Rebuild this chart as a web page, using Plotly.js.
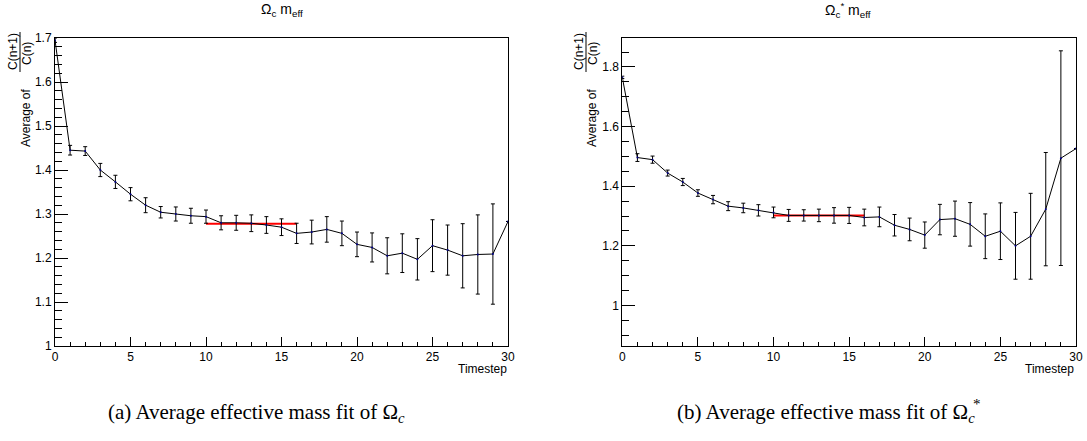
<!DOCTYPE html>
<html>
<head>
<meta charset="utf-8">
<script src="https://cdn.plot.ly/plotly-3.0.1.min.js"></script>
<style>html,body{margin:0;padding:0;background:#fff;}#chart{width:1087px;height:441px;}</style>
</head>
<body>
<div id="chart"></div>
<script>
// ---- data ----
const timesteps = [0,1,2,3,4,5,6,7,8,9,10,11,12,13,14,15,16,17,18,19,20,21,22,23,24,25,26,27,28,29,30];
const omegaC = [1.695,1.445,1.443,1.400,1.373,1.345,1.320,1.304,1.300,1.296,1.294,1.280,1.280,1.279,1.275,1.270,1.256,1.259,1.265,1.256,1.231,1.224,1.205,1.211,1.197,1.228,1.218,1.205,1.208,1.209,1.283];
const omegaCErr = [0.005,0.011,0.010,0.015,0.015,0.015,0.017,0.013,0.016,0.017,0.015,0.016,0.017,0.019,0.019,0.019,0.023,0.027,0.029,0.028,0.028,0.033,0.041,0.044,0.047,0.059,0.057,0.073,0.090,0.114,0];
const omegaCStar = [1.765,1.496,1.489,1.444,1.414,1.377,1.355,1.333,1.327,1.319,1.312,1.302,1.302,1.302,1.302,1.302,1.295,1.297,1.269,1.255,1.236,1.288,1.291,1.272,1.232,1.249,1.200,1.232,1.323,1.494,1.526];
const omegaCStarErr = [0.004,0.013,0.012,0.010,0.012,0.011,0.014,0.015,0.016,0.019,0.018,0.020,0.019,0.021,0.026,0.027,0.028,0.033,0.036,0.038,0.044,0.051,0.059,0.073,0.075,0.095,0.112,0.144,0.190,0.360,0];
const fitRange = [10, 16];
const fitC = 1.278;
const fitCStar = 1.302;

const W = 1087, H = 441;
const px = x => x / W;
const py = y => 1 - y / H;
const FONT = 'Liberation Sans, Arial, Helvetica, sans-serif';
const SERIF = 'Liberation Serif, Times New Roman, serif';

function dataTrace(y, err, xa, ya) {
  return {
    x: timesteps, y: y, xaxis: xa, yaxis: ya, type: 'scatter', mode: 'lines+markers',
    line: {color: '#000', width: 1},
    marker: {color: '#00008b', size: 2},
    error_y: {type: 'data', array: err, visible: true, color: '#000', thickness: 1, width: 2},
    showlegend: false, hoverinfo: 'x+y'
  };
}
function fitTrace(v, xa, ya) {
  return {
    x: fitRange, y: [v, v], xaxis: xa, yaxis: ya, type: 'scatter', mode: 'lines',
    line: {color: '#ff0000', width: 2}, showlegend: false
  };
}

const traces = [
  fitTrace(fitC, 'x', 'y'),
  dataTrace(omegaC, omegaCErr, 'x', 'y'),
  fitTrace(fitCStar, 'x2', 'y2'),
  dataTrace(omegaCStar, omegaCStarErr, 'x2', 'y2')
];

function xAxis(domain, anchor) {
  return {
    domain: domain, anchor: anchor, range: [0, 30], dtick: 5, tick0: 0,
    ticks: 'inside', ticklen: 9, tickwidth: 1, tickcolor: '#000',
    minor: {dtick: 1, ticks: 'inside', ticklen: 4, tickcolor: '#000', tickwidth: 1},
    showline: true, linecolor: '#000', linewidth: 1, mirror: true,
    showgrid: false, zeroline: false,
    tickfont: {family: FONT, size: 12, color: '#000'}
  };
}
function yAxis(domain, anchor, range, dtick, mdtick) {
  return {
    domain: domain, anchor: anchor, range: range, dtick: dtick, tick0: 0,
    ticks: 'inside', ticklen: 13, tickwidth: 1, tickcolor: '#000',
    minor: {dtick: mdtick, ticks: 'inside', ticklen: 7, tickcolor: '#000', tickwidth: 1},
    showline: true, linecolor: '#000', linewidth: 1, mirror: true,
    showgrid: false, zeroline: false,
    tickfont: {family: FONT, size: 12, color: '#000'}
  };
}

const yDom = [py(346), py(38)];
const annFont = {family: FONT, size: 12, color: '#000'};

function yTitle(off) {
  return [
    {text: 'Average of', x: px(26 + off), y: py(118), textangle: -90},
    {text: 'C(n+1)', x: px(13 + off), y: py(52), textangle: -90},
    {text: 'C(n)', x: px(27 + off), y: py(54), textangle: -90}
  ];
}

const annotations = [
  {text: 'Ω<sub>c</sub> m<sub>eff</sub>', x: px(282), y: py(10), font: {family: FONT, size: 14, color: '#000'}},
  {text: 'Ω<sub>c</sub><sup>*</sup> m<sub>eff</sub>', x: px(848), y: py(10), font: {family: FONT, size: 14, color: '#000'}},
  {text: 'Timestep', x: px(509), y: py(369), xanchor: 'right', font: annFont},
  {text: 'Timestep', x: px(1076), y: py(369), xanchor: 'right', font: annFont},
  ...yTitle(0), ...yTitle(566),
  {text: '(a) Average effective mass fit of Ω<sub><i>c</i></sub>', x: px(256), y: py(413), font: {family: SERIF, size: 21, color: '#000'}},
  {text: '(b) Average effective mass fit of Ω<sub><i>c</i></sub>', x: px(826), y: py(413), font: {family: SERIF, size: 21, color: '#000'}},
  {text: '*', x: px(977), y: py(404), font: {family: SERIF, size: 15, color: '#000'}}
].map(a => Object.assign({xref: 'paper', yref: 'paper', showarrow: false, font: annFont, xanchor: 'center', yanchor: 'middle'}, a));

const shapes = [
  {type: 'line', xref: 'paper', yref: 'paper', x0: px(20), x1: px(20), y0: py(32), y1: py(72), line: {color: '#000', width: 1}},
  {type: 'line', xref: 'paper', yref: 'paper', x0: px(586), x1: px(586), y0: py(32), y1: py(72), line: {color: '#000', width: 1}}
];

const layout = {
  width: W, height: H,
  margin: {l: 0, r: 0, t: 0, b: 0},
  paper_bgcolor: '#fff', plot_bgcolor: '#fff',
  showlegend: false,
  xaxis: xAxis([px(55), px(508)], 'y'),
  yaxis: yAxis(yDom, 'x', [1, 1.7], 0.1, 0.02),
  xaxis2: xAxis([px(622.3), px(1076)], 'y2'),
  yaxis2: yAxis(yDom, 'x2', [0.864, 1.897], 0.2, 0.05),
  annotations: annotations,
  shapes: shapes
};

Plotly.newPlot('chart', traces, layout, {displayModeBar: false, staticPlot: true});
</script>
</body>
</html>
